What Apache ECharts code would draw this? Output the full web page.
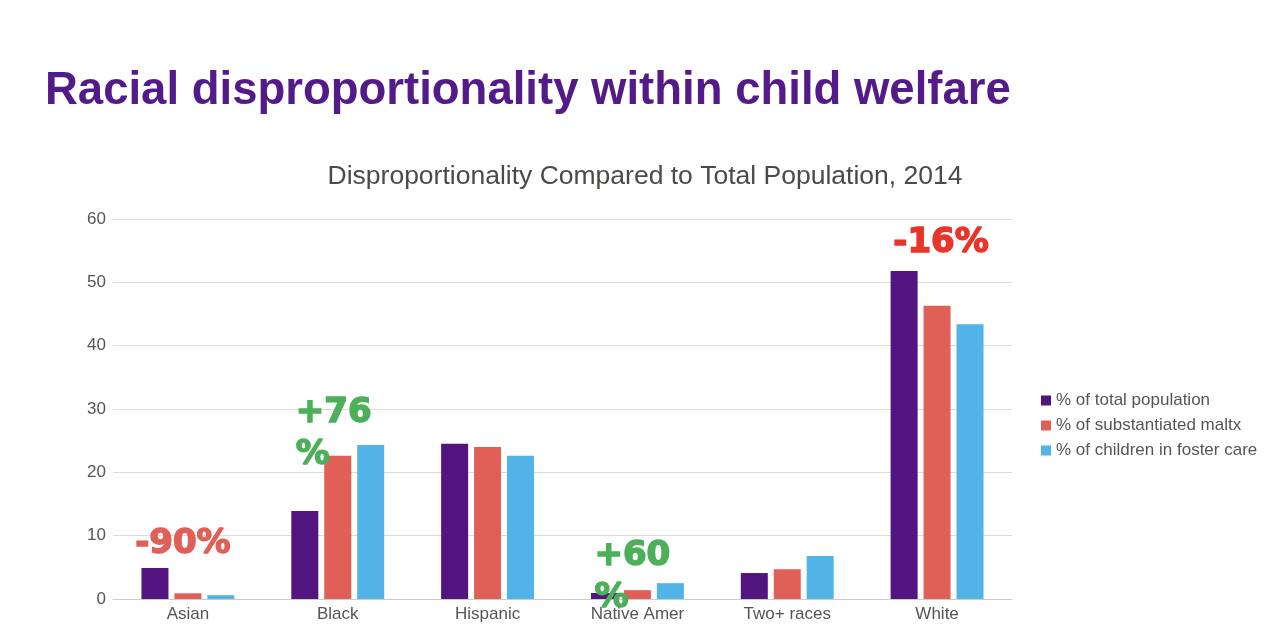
<!DOCTYPE html>
<html>
<head>
<meta charset="utf-8">
<script src="https://cdn.jsdelivr.net/npm/echarts@6/dist/echarts.min.js"></script>
<style>
html,body{margin:0;padding:0;background:#fff;}
#chart{width:1276px;height:627px;}
</style>
</head>
<body>
<div id="chart"></div>
<script>
const categories = ['Asian', 'Black', 'Hispanic', 'Native Amer', 'Two+ races', 'White'];
const seriesNames = ['% of total population', '% of substantiated maltx', '% of children in foster care'];
const totalPopulation = [4.9, 13.9, 24.5, 0.95, 4.1, 51.8];
const substantiatedMaltx = [0.9, 22.6, 24.0, 1.4, 4.7, 46.3];
const fosterCare = [0.6, 24.3, 22.6, 2.5, 6.8, 43.4];
const yTicks = [0, 10, 20, 30, 40, 50, 60];
const annotationTexts = ['-90%', '+76\n%', '+60\n%', '-16%'];
const annotationCategories = ['Asian', 'Black', 'Native Amer', 'White'];
const annotationValues = [8.7, 26.0, 3.5, 56.2];

const colors = ['#52157F', '#E05F56', '#52B4E6'];
const annStyles = [
  {color:'#E05F56', align:'center', dx:-5},
  {color:'#4CAF5A', align:'left', dx:-42},
  {color:'#4CAF5A', align:'left', dx:-43},
  {color:'#E8352A', align:'center', dx:4}
];

const chart = echarts.init(document.getElementById('chart'));
const values = [totalPopulation, substantiatedMaltx, fosterCare];
chart.setOption({
  animation: false,
  title: [
    {text: 'Racial disproportionality within child welfare', left: 40, top: 63,
     textStyle: {fontFamily: 'Liberation Sans', fontWeight: 'bold', fontSize: 45.5, color: '#531A8A'}},
    {text: 'Disproportionality Compared to Total Population, 2014', left: 640, textAlign: 'center', top: 158,
     textStyle: {fontFamily: 'Liberation Sans', fontWeight: 'normal', fontSize: 26.5, color: '#4a4a46'}}
  ],
  legend: {
    orient: 'vertical', left: 1036, top: 387, itemWidth: 10, itemHeight: 10, itemGap: 8,
    icon: 'rect',
    textStyle: {fontFamily: 'Liberation Sans', fontSize: 17, color: '#555'},
    data: seriesNames
  },
  grid: {left: 113, right: 264, top: 219, bottom: 28, containLabel: false},
  xAxis: {
    type: 'category', data: categories,
    axisLine: {lineStyle: {color: '#ccc', width: 1}},
    axisTick: {show: false},
    axisLabel: {fontFamily: 'Liberation Sans', fontSize: 17, color: '#555', margin: 7}
  },
  yAxis: {
    type: 'value', min: yTicks[0], max: yTicks[yTicks.length-1], interval: 10,
    axisLine: {show: false}, axisTick: {show: false},
    splitLine: {lineStyle: {color: '#dcdcdc', width: 1}},
    axisLabel: {fontFamily: 'Liberation Sans', fontSize: 17, color: '#555', margin: 7}
  },
  series: seriesNames.map((n, i) => ({
    name: n, type: 'bar', data: values[i],
    itemStyle: {color: colors[i]},
    barGap: '22%', barCategoryGap: '38%'
  }))
});

function drawAnnotations() {
  const elements = annotationTexts.map((t, i) => {
    const p = chart.convertToPixel({gridIndex: 0}, [annotationCategories[i], annotationValues[i]]);
    const s = annStyles[i];
    return {
      type: 'text', x: p[0] + s.dx, y: p[1], z: 100,
      style: {text: t, fill: s.color, fontFamily: 'DejaVu Sans, sans-serif', fontWeight: 900, fontSize: 34,
              stroke: s.color, lineWidth: 1.5,
              align: s.align, verticalAlign: 'middle', lineHeight: 42}
    };
  });
  chart.setOption({graphic: elements});
}
drawAnnotations();
</script>
</body>
</html>
